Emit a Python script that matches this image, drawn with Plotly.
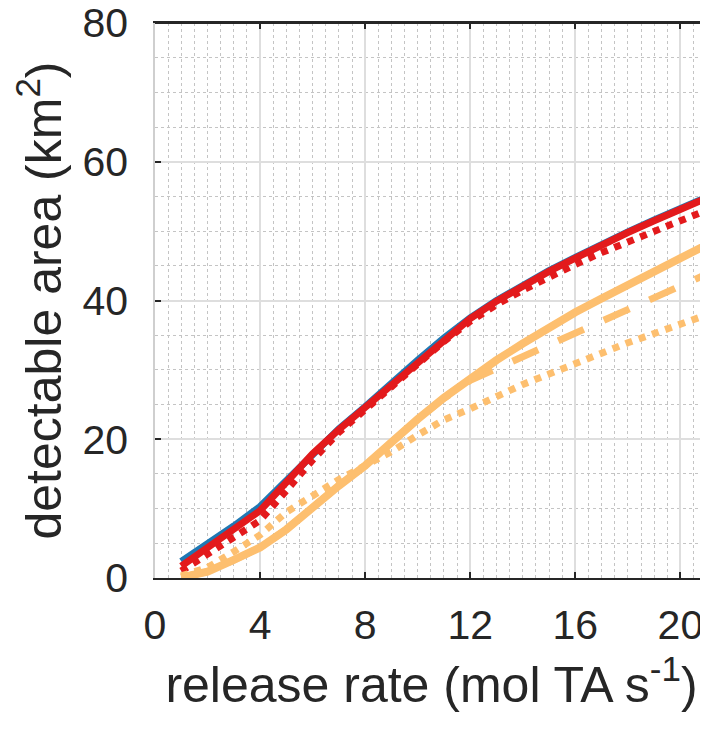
import plotly.graph_objects as go

# release rate (mol TA s^-1)
x_rate = [1, 2, 3, 4, 5, 6, 7, 8, 9, 10, 11, 12, 13, 14, 15, 16, 17, 18, 19, 20, 21, 21.5]

# detectable area (km^2)
blue_solid = [2.4, 4.9, 7.5, 10.3, 14.1, 18.0, 21.5, 24.7, 28.2, 31.4, 34.6, 37.5,
              40.0, 42.2, 44.3, 46.2, 48.1, 49.9, 51.6, 53.3, 55.0, 55.7]
red_solid = [1.7, 4.3, 6.9, 9.7, 13.8, 17.9, 21.4, 24.6, 28.1, 31.3, 34.5, 37.4,
             39.9, 42.1, 44.2, 46.1, 48.0, 49.8, 51.5, 53.2, 54.9, 55.6]
red_dotted = [1.0, 3.4, 5.9, 8.3, 12.6, 17.0, 21.0, 24.3, 27.8, 31.0, 34.1, 37.0,
              39.4, 41.5, 43.4, 45.2, 46.9, 48.5, 50.0, 51.5, 53.0, 53.6]
orange_solid = [0.1, 0.9, 2.6, 4.4, 7.0, 10.2, 13.3, 16.2, 19.7, 22.9, 26.0, 28.8,
                31.4, 33.8, 36.1, 38.3, 40.3, 42.3, 44.2, 46.1, 48.1, 49.0]
orange_dashed = [0.1, 0.9, 2.6, 4.4, 7.0, 10.2, 13.3, 16.2, 19.7, 22.9, 25.9, 28.5,
                 30.2, 31.9, 33.6, 35.4, 37.2, 38.9, 40.6, 42.3, 43.8, 44.5]
orange_dotted = [0.3, 1.5, 3.8, 6.2, 9.5, 12.0, 14.2, 16.2, 18.2, 20.6, 22.8, 24.4,
                 26.2, 27.9, 29.4, 31.0, 32.4, 33.9, 35.3, 36.6, 38.0, 38.6]

x_ticks = [0, 4, 8, 12, 16, 20]
y_ticks = [0, 20, 40, 60, 80]

BLUE = "#1F78B4"
RED = "#E31A1C"
ORANGE = "#FDBF6F"
TXT = "#262626"

fig = go.Figure()
series = [
    (blue_solid, BLUE, "solid", 7),
    (red_dotted, RED, "dot", 7),
    (red_solid, RED, "solid", 7),
    (orange_dotted, ORANGE, "dot", 7),
    (orange_dashed, ORANGE, "28px,22px", 7),
    (orange_solid, ORANGE, "solid", 8),
]
for ys, col, dash, w in series:
    fig.add_trace(go.Scatter(x=x_rate, y=ys, mode="lines",
                             line=dict(color=col, width=w, dash=dash),
                             showlegend=False, hoverinfo="skip"))

font_family = "Liberation Sans, Arial, Helvetica, sans-serif"

fig.update_layout(
    width=700, height=724,
    margin=dict(l=147, r=0, t=15, b=154),
    paper_bgcolor="white", plot_bgcolor="white",
    font=dict(family=font_family, color=TXT, size=41),
    showlegend=False,
)
fig.update_xaxes(
    range=[0, 21.05], automargin=False,
    tickvals=x_ticks, ticktext=[str(v) for v in x_ticks],
    tickfont=dict(size=41, color=TXT),
    ticklabelstandoff=10, ticklabeloverflow="allow",
    showgrid=True, gridcolor="#dedede", gridwidth=1.5,
    minor=dict(dtick=0.5, showgrid=True, gridcolor="#c4c4c4", griddash="dot", gridwidth=1,
               ticks=""),
    showline=True, linecolor=TXT, linewidth=2, mirror="ticks",
    ticks="inside", ticklen=6, tickwidth=2, tickcolor=TXT,
    zeroline=False,
    title=dict(text="release rate (mol TA s<sup>-1</sup>)", font=dict(size=50, color=TXT), standoff=20),
)
fig.update_yaxes(
    range=[0, 80], automargin=False,
    tickvals=y_ticks, ticktext=[str(v) for v in y_ticks],
    tickfont=dict(size=41, color=TXT),
    ticklabelstandoff=17, ticklabeloverflow="allow",
    showgrid=True, gridcolor="#dedede", gridwidth=1.5,
    minor=dict(dtick=5, showgrid=True, gridcolor="#c4c4c4", griddash="dot", gridwidth=1,
               ticks=""),
    showline=True, linecolor="#cfcfcf", linewidth=1.5,
    ticks="inside", ticklen=6, tickwidth=2, tickcolor=TXT,
    zeroline=False,
    title=dict(text="detectable area (km<sup>2</sup>)", font=dict(size=50, color=TXT), standoff=9),
)
# top border
fig.add_shape(type="line", xref="paper", yref="paper", x0=0, x1=1, y0=1, y1=1,
              line=dict(color=TXT, width=2))

fig.write_html("out.html")
